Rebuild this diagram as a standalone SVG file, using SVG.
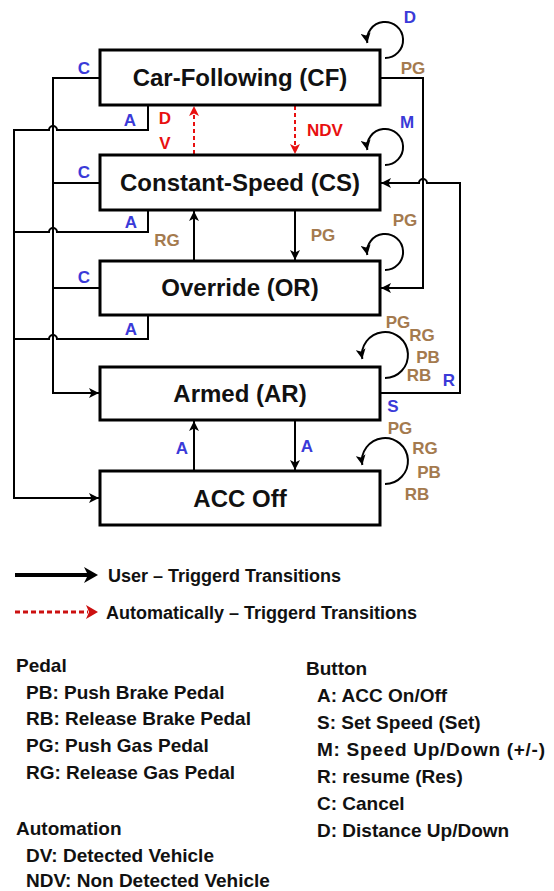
<svg xmlns="http://www.w3.org/2000/svg" width="554" height="891" viewBox="0 0 554 891">
<style>
.box{fill:#fff;stroke:#000;stroke-width:3}
.nl{font-family:"Liberation Sans",Arial,sans-serif;font-weight:bold;font-size:24px;fill:#111;text-anchor:middle}
.ln{fill:none;stroke:#000;stroke-width:2}
.dash{fill:none;stroke:#e81010;stroke-width:2;stroke-dasharray:4 3}
.lb{font-family:"Liberation Sans",Arial,sans-serif;font-weight:bold;font-size:17px;text-anchor:middle}
.b{fill:#3a3ad8}
.br{fill:#a47a4e}
.r{fill:#e81010}
.lg{font-family:"Liberation Sans",Arial,sans-serif;font-weight:bold;font-size:18px;fill:#111}
.lk{font-family:"Liberation Sans",Arial,sans-serif;font-weight:bold;font-size:19px;fill:#111}
</style>
<defs>
<marker id="ah" markerUnits="userSpaceOnUse" markerWidth="11" markerHeight="10" refX="10" refY="5" orient="auto" viewBox="0 0 11 10">
<path d="M0,0 L10,5 L0,10 L2.5,5 Z" fill="#000"/>
</marker>
<marker id="ahr" markerUnits="userSpaceOnUse" markerWidth="11" markerHeight="10" refX="10" refY="5" orient="auto" viewBox="0 0 11 10">
<path d="M0,0 L10,5 L0,10 L2.5,5 Z" fill="#e81010"/>
</marker>
</defs>

<g id="connectors">
<!-- C transitions to Armed -->
<path class="ln" d="M100,78 H53 V393 H99" marker-end="url(#ah)"/>
<path class="ln" d="M100,183 H53"/>
<path class="ln" d="M100,288 H53"/>
<!-- A transitions to ACC Off -->
<path class="ln" d="M148,106 V130 H57 A4,4 0 0 0 49,130 H14 V498 H99" marker-end="url(#ah)"/>
<path class="ln" d="M148,211 V232 H57 A4,4 0 0 0 49,232 H14"/>
<path class="ln" d="M148,316 V339 H57 A4,4 0 0 0 49,339 H14"/>
<!-- PG from CF to OR -->
<path class="ln" d="M381,78 H423 V288 H381" marker-end="url(#ah)"/>
<!-- R from AR to CS -->
<path class="ln" d="M381,393 H460 V183 H427 A4,4 0 0 0 419,183 H381" marker-end="url(#ah)"/>
<!-- vertical transitions -->
<path class="ln" d="M295,211 V260" marker-end="url(#ah)"/>
<path class="ln" d="M194,260 V211" marker-end="url(#ah)"/>
<path class="ln" d="M295,421 V470" marker-end="url(#ah)"/>
<path class="ln" d="M194,470 V421" marker-end="url(#ah)"/>
<path class="dash" d="M295,106 V154" marker-end="url(#ahr)"/>
<path class="dash" d="M194,154 V106" marker-end="url(#ahr)"/>
<!-- self loops -->
<path class="ln" d="M385,58 A18,18 0 1 0 367.3,43" marker-end="url(#ah)"/>
<path class="ln" d="M385,165 A18,18 0 1 0 367.3,150" marker-end="url(#ah)"/>
<path class="ln" d="M385,270 A18,18 0 1 0 367.3,255" marker-end="url(#ah)"/>
<path class="ln" d="M385,378 A23,23 0 1 0 362.3,359" marker-end="url(#ah)"/>
<path class="ln" d="M385,484 A23,23 0 1 0 362.3,465" marker-end="url(#ah)"/>
</g>

<g id="labels">
<text class="lb b" x="84" y="74">C</text>
<text class="lb b" x="130" y="126">A</text>
<text class="lb r" x="165" y="124">D</text>
<text class="lb r" x="165" y="149">V</text>
<text class="lb r" x="325" y="136">NDV</text>
<text class="lb b" x="410" y="23">D</text>
<text class="lb br" x="413" y="74">PG</text>
<text class="lb b" x="407" y="128">M</text>
<text class="lb b" x="84" y="178">C</text>
<text class="lb b" x="131" y="228">A</text>
<text class="lb br" x="167" y="246">RG</text>
<text class="lb br" x="323" y="241">PG</text>
<text class="lb br" x="405" y="226">PG</text>
<text class="lb b" x="84" y="283">C</text>
<text class="lb b" x="131" y="335">A</text>
<text class="lb br" x="398" y="328">PG</text>
<text class="lb br" x="422" y="341">RG</text>
<text class="lb br" x="428" y="363">PB</text>
<text class="lb br" x="419" y="381">RB</text>
<text class="lb b" x="449" y="386">R</text>
<text class="lb b" x="393" y="412">S</text>
<text class="lb b" x="307" y="452">A</text>
<text class="lb b" x="182" y="454">A</text>
<text class="lb br" x="400" y="434">PG</text>
<text class="lb br" x="425" y="454">RG</text>
<text class="lb br" x="429" y="478">PB</text>
<text class="lb br" x="417" y="500">RB</text>
</g>

<g id="CF"><rect class="box" x="100" y="50" width="280" height="55"/><text class="nl" x="240" y="86">Car-Following (CF)</text></g>
<g id="CS"><rect class="box" x="100" y="155" width="280" height="55"/><text class="nl" x="240" y="191">Constant-Speed (CS)</text></g>
<g id="OR"><rect class="box" x="100" y="261" width="280" height="54"/><text class="nl" x="240" y="296">Override (OR)</text></g>
<g id="AR"><rect class="box" x="100" y="367" width="280" height="53"/><text class="nl" x="240" y="402">Armed (AR)</text></g>
<g id="OFF"><rect class="box" x="100" y="471" width="280" height="54"/><text class="nl" x="240" y="507">ACC Off</text></g>

<g id="legend">
<path d="M15,575 H88" stroke="#000" stroke-width="4"/>
<path d="M84,567 L98,575 L84,583 L88,575 Z" fill="#000"/>
<text class="lg" x="108" y="582">User – Triggerd Transitions</text>
<path d="M15,612 H88" stroke="#cc1010" stroke-width="3" stroke-dasharray="5 3"/>
<path d="M86,605 L98,612 L86,619 L89,612 Z" fill="#cc1010"/>
<text class="lg" x="106" y="619">Automatically – Triggerd Transitions</text>
<text class="lk" x="16" y="672">Pedal</text>
<text class="lk" x="26" y="699">PB: Push Brake Pedal</text>
<text class="lk" x="26" y="725">RB: Release Brake Pedal</text>
<text class="lk" x="26" y="752">PG: Push Gas Pedal</text>
<text class="lk" x="26" y="779">RG: Release Gas Pedal</text>
<text class="lk" x="16" y="835">Automation</text>
<text class="lk" x="26" y="862">DV: Detected Vehicle</text>
<text class="lk" x="26" y="887">NDV: Non Detected Vehicle</text>
<text class="lk" x="306" y="675">Button</text>
<text class="lk" x="317" y="702">A: ACC On/Off</text>
<text class="lk" x="317" y="729">S: Set Speed (Set)</text>
<text class="lk" x="317" y="756" textLength="228" lengthAdjust="spacing">M: Speed Up/Down (+/-)</text>
<text class="lk" x="317" y="783">R: resume (Res)</text>
<text class="lk" x="317" y="810">C: Cancel</text>
<text class="lk" x="317" y="837">D: Distance Up/Down</text>
</g>
</svg>
